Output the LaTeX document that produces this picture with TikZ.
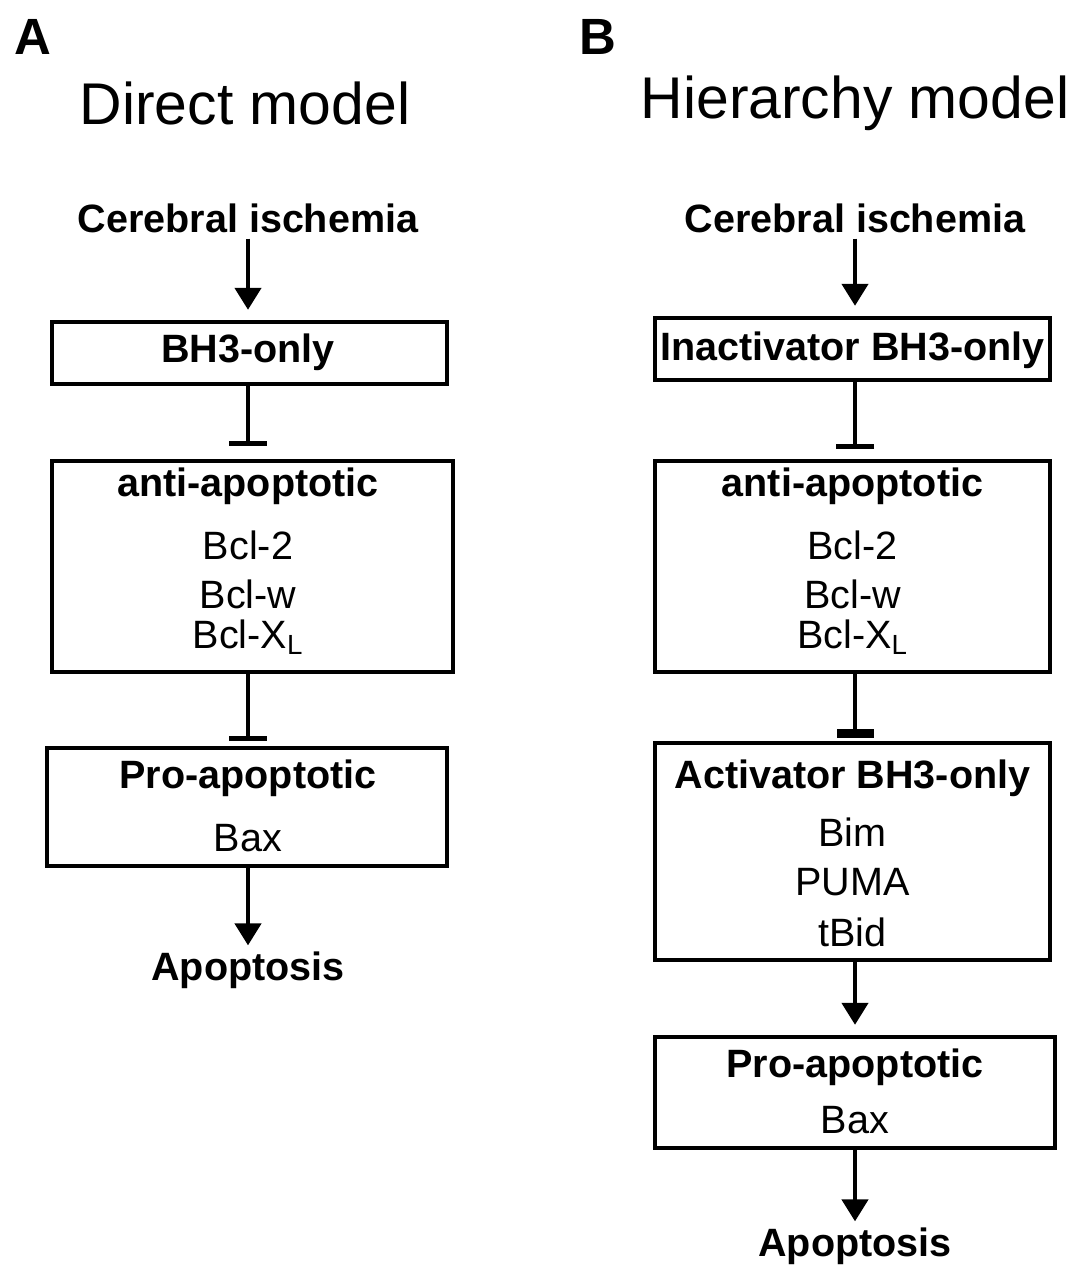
\documentclass[tikz,border=0pt]{standalone}
\usepackage{fontspec}
\setmainfont{Liberation Sans}
\usetikzlibrary{arrows.meta}

\begin{document}
\begin{tikzpicture}[x=0.02cm, y=-0.02cm,
		box/.style={draw, line width=2.5pt, inner sep=0pt},
		hd/.style={font=\fontsize{22.5}{27}\selectfont\bfseries},
		mb/.style={font=\fontsize{22.5}{27}\selectfont},
		ttl/.style={font=\fontsize{33.5}{40}\selectfont},
		lbl/.style={font=\fontsize{29}{34}\selectfont\bfseries},
		act/.style={line width=2.5pt, -{Triangle[length=0.44cm, width=0.52cm]}, shorten >=0.2cm},
		inh/.style={line width=2.5pt, -{Bar[width=0.76cm]}, shorten >=0.26cm}]
	\useasboundingbox (0,0) rectangle (1080,1268);
	\node[lbl] (labA) at (33,37) {A};
	\node[lbl] (labB) at (598,37) {B};
	\node[ttl] (titA) at (245,103) {Direct model};
	\node[ttl] (titB) at (855,103) {Hierarchy model};
	\node[hd] (ciA) at (248,218) {Cerebral ischemia};
	\node[box, minimum width=7.9cm, minimum height=1.24cm] (bh3A) at (249.5,353) {};
	\node[hd] (bh3At) at (248,352) {BH3-only};
	\node[box, minimum width=8.02cm, minimum height=4.22cm] (antiA) at (252.5,566.5) {};
	\node[hd] (antiAt) at (248,486) {anti-apoptotic};
	\node[mb] (bcl2A) at (248,545) {Bcl-2};
	\node[mb] (bclwA) at (248,594) {Bcl-w};
	\node[mb] (bclxA) at (248,637) {Bcl-X\textsubscript{L}};
	\node[box, minimum width=8.0cm, minimum height=2.36cm] (proA) at (247,807) {};
	\node[hd] (proAt) at (248,778) {Pro-apoptotic};
	\node[mb] (baxA) at (248,838) {Bax};
	\node[hd] (apA) at (248,970) {Apoptosis};
	\draw[act] (ciA) -- (bh3A.north -| ciA);
	\draw[inh] (bh3A.south -| ciA) -- (antiA.north -| ciA);
	\draw[inh, shorten >=0.1cm] (antiA.south -| ciA) -- (proA.north -| ciA);
	\draw[act, shorten >=0pt] (proA.south -| ciA) -- (apA);
	\node[hd] (ciB) at (855,218) {Cerebral ischemia};
	\node[box, minimum width=7.9cm, minimum height=1.24cm] (inactB) at (852.5,349) {};
	\node[hd] (inactBt) at (852.5,350) {Inactivator BH3-only};
	\node[box, minimum width=7.9cm, minimum height=4.22cm] (antiB) at (852.5,566.5) {};
	\node[hd] (antiBt) at (852.5,486) {anti-apoptotic};
	\node[mb] (bcl2B) at (852.5,545) {Bcl-2};
	\node[mb] (bclwB) at (852.5,594) {Bcl-w};
	\node[mb] (bclxB) at (852.5,637) {Bcl-X\textsubscript{L}};
	\node[box, minimum width=7.9cm, minimum height=4.34cm] (actB) at (852.5,851.5) {};
	\node[hd] (actBt) at (852.5,778) {Activator BH3-only};
	\node[mb] (bimB) at (852.5,832) {Bim};
	\node[mb] (pumaB) at (852.5,882) {PUMA};
	\node[mb] (tbidB) at (852.5,932) {tBid};
	\node[box, minimum width=8.0cm, minimum height=2.22cm] (proB) at (855,1092.5) {};
	\node[hd] (proBt) at (855,1067) {Pro-apoptotic};
	\node[mb] (baxB) at (855,1120) {Bax};
	\node[hd] (apB) at (855,1246) {Apoptosis};
	\draw[act] (ciB) -- (inactB.north -| ciB);
	\draw[inh, shorten >=0.2cm] (inactB.south -| ciB) -- (antiB.north -| ciB);
	\draw[line width=2.5pt, -{Bar[width=0.74cm, line width=5pt]}, shorten >=0.06cm] (antiB.south -| ciB) -- (actB.north -| ciB);
	\draw[act] (actB.south -| ciB) -- (proB);
	\draw[act, shorten >=0pt] (proB) -- (apB);
\end{tikzpicture}
\end{document}
